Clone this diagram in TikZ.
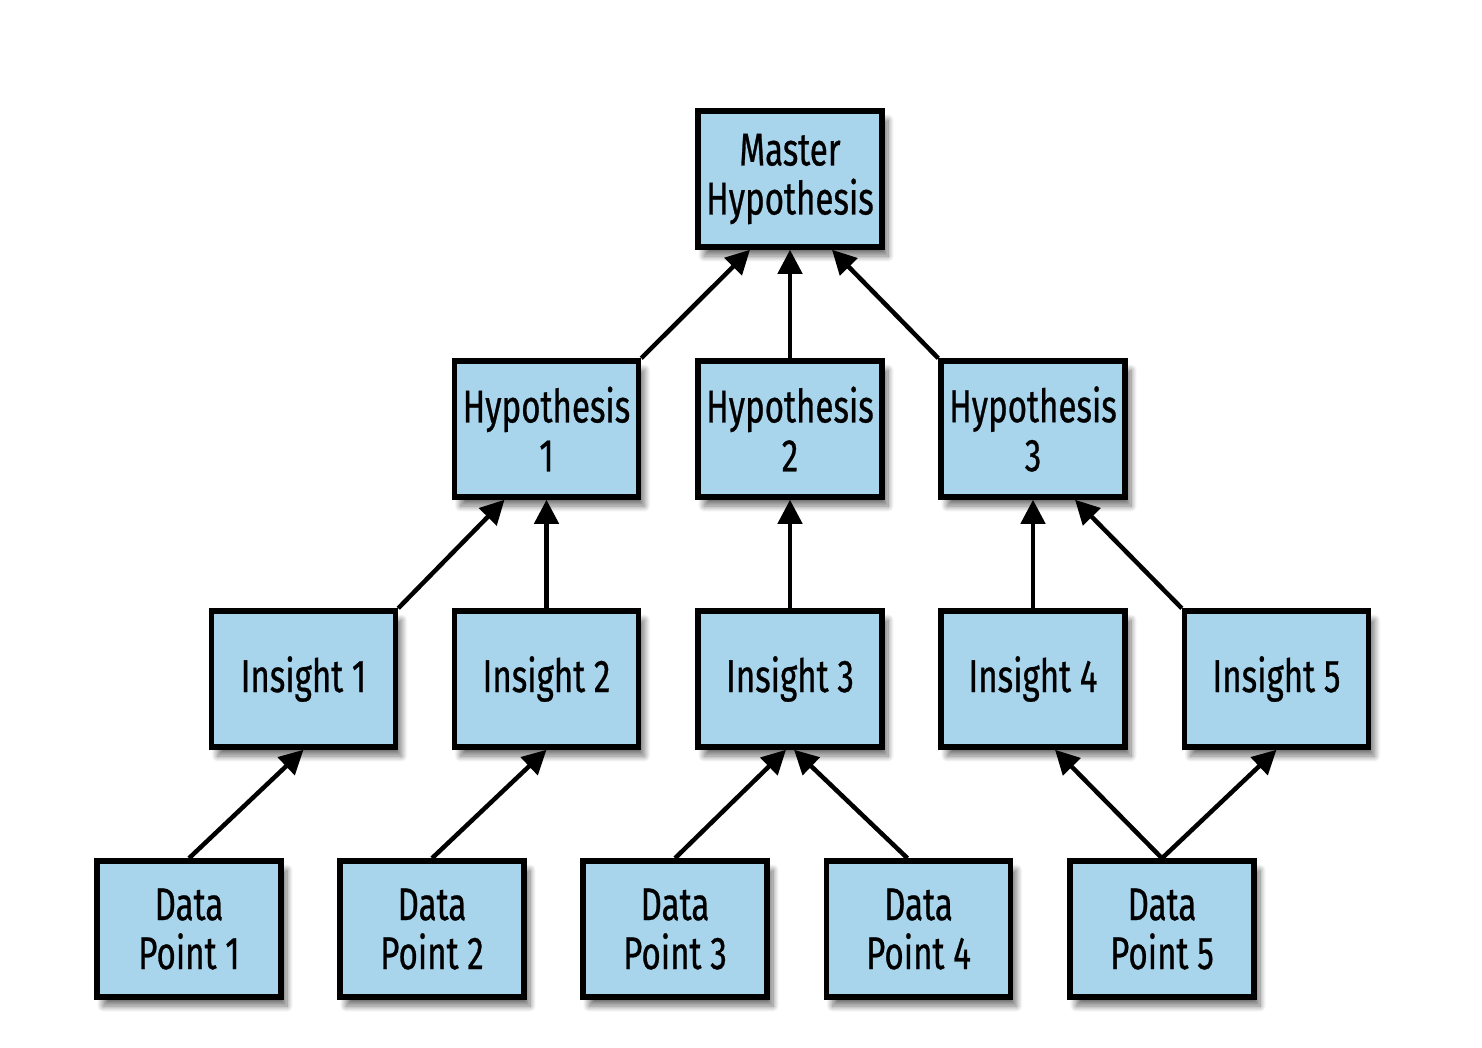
\documentclass[tikz,border=0pt]{standalone}
\usepackage{fontspec}
\setmainfont[FakeStretch=0.72,FakeBold=0.6]{Fira Sans}
\usetikzlibrary{arrows.meta,calc,shadows.blur}
\definecolor{boxblue}{RGB}{168,213,236}
\begin{document}
\begin{tikzpicture}[x=1pt,y=-1pt,
  box/.style={draw=black,line width=5.5pt,fill=boxblue,minimum width=184pt,minimum height=136pt,
    inner sep=0pt,align=center,font=\fontsize{46}{49}\selectfont,
    blur shadow={shadow xshift=6pt,shadow yshift=-9pt,shadow blur steps=12,shadow blur radius=6pt,shadow opacity=55}},
  link/.style={line width=4.5pt,-{Triangle[length=24pt,width=24pt]}}]
\useasboundingbox (0,0) rectangle (1482,1047);
\node[box] (M) at (790,179) {Master\\Hypothesis};
\node[box] (H1) at (546.5,429) {Hypothesis\\1};
\node[box] (H2) at (790,429) {Hypothesis\\2};
\node[box] (H3) at (1033,429) {Hypothesis\\3};
\node[box] (I1) at (303.5,679) {Insight 1};
\node[box] (I2) at (546.5,679) {Insight 2};
\node[box] (I3) at (790,679) {Insight 3};
\node[box] (I4) at (1033,679) {Insight 4};
\node[box] (I5) at (1276.5,679) {Insight 5};
\node[box] (D1) at (189,929) {Data\\Point 1};
\node[box] (D2) at (432,929) {Data\\Point 2};
\node[box] (D3) at (675,929) {Data\\Point 3};
\node[box] (D4) at (918.5,929) {Data\\Point 4};
\node[box] (D5) at (1162,929) {Data\\Point 5};
\draw[link] (H1.north east) -- ($(M.south)+(-40,0)$);
\draw[link] (H2.north) -- (M.south);
\draw[link] (H3.north west) -- ($(M.south)+(42,0)$);
\draw[link] (I1.north east) -- ($(H1.south)+(-42,0)$);
\draw[link] (I2.north) -- (H1.south);
\draw[link] (I3.north) -- (H2.south);
\draw[link] (I4.north) -- (H3.south);
\draw[link] (I5.north west) -- ($(H3.south)+(42,0)$);
\draw[link] (D1.north) -- (I1.south);
\draw[link] (D2.north) -- (I2.south);
\draw[link] (D3.north) -- ($(I3.south)+(-4,0)$);
\draw[link] ($(D4.north)+(-11,0)$) -- ($(I3.south)+(4,0)$);
\draw[link] (D5.north) -- ($(I4.south)+(22,0)$);
\draw[link] (D5.north) -- (I5.south);
\end{tikzpicture}
\end{document}
